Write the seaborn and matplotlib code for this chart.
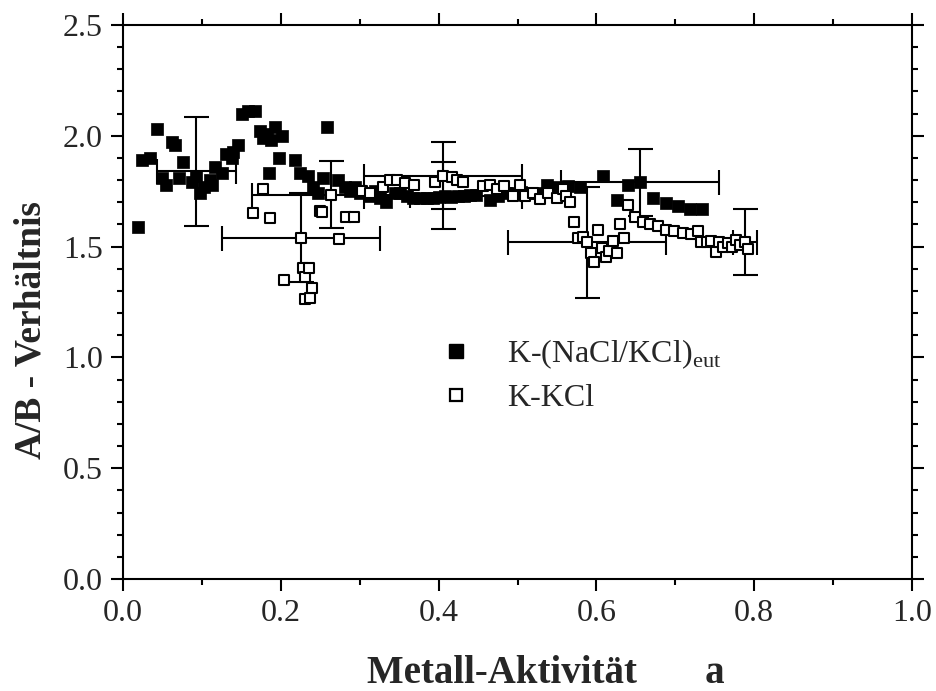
import numpy as np
import pandas as pd
import seaborn as sns
import matplotlib
matplotlib.use("Agg")
import matplotlib.pyplot as plt
from matplotlib.lines import Line2D
from matplotlib.ticker import MultipleLocator, FormatStrFormatter

# K-(NaCl/KCl)eut series
eut_x = [0.019, 0.024, 0.034, 0.043, 0.049, 0.055, 0.062, 0.066, 0.071, 0.076,
         0.087, 0.093, 0.098, 0.102, 0.110, 0.113, 0.117, 0.125, 0.131, 0.138,
         0.140, 0.146, 0.151, 0.159, 0.167, 0.173, 0.178, 0.182, 0.185, 0.188,
         0.193, 0.198, 0.201, 0.218, 0.224, 0.235, 0.241, 0.247, 0.254, 0.259,
         0.273, 0.281, 0.288, 0.294, 0.300, 0.313, 0.319, 0.326, 0.333, 0.345,
         0.351, 0.360, 0.368, 0.376, 0.385, 0.393, 0.400, 0.408, 0.416, 0.424,
         0.432, 0.440, 0.448, 0.465, 0.475, 0.485, 0.495, 0.505, 0.515, 0.525,
         0.537, 0.550, 0.564, 0.579, 0.608, 0.626, 0.640, 0.655, 0.672, 0.688,
         0.703, 0.719, 0.734]
eut_y = [1.59, 1.89, 1.90, 2.03, 1.81, 1.78, 1.97, 1.96, 1.81, 1.88,
         1.79, 1.82, 1.74, 1.77, 1.80, 1.78, 1.86, 1.83, 1.92, 1.90,
         1.925, 1.96, 2.10, 2.11, 2.11, 2.02, 1.99, 2.01, 1.83, 1.98,
         2.04, 1.90, 2.00, 1.89, 1.83, 1.82, 1.77, 1.74, 1.81, 2.04,
         1.80, 1.77, 1.75, 1.77, 1.74, 1.73, 1.75, 1.72, 1.70, 1.74,
         1.74, 1.73, 1.72, 1.72, 1.72, 1.72, 1.725, 1.73, 1.725, 1.73,
         1.73, 1.735, 1.735, 1.71, 1.73, 1.74, 1.74, 1.745, 1.74, 1.74,
         1.78, 1.77, 1.775, 1.77, 1.82, 1.71, 1.78, 1.79, 1.72, 1.695,
         1.685, 1.67, 1.67]

# K-KCl series
kcl_x = [0.165, 0.177, 0.186, 0.204, 0.226, 0.228, 0.231, 0.231, 0.236, 0.237,
         0.239, 0.250, 0.252, 0.264, 0.274, 0.283, 0.293, 0.303, 0.313, 0.329,
         0.338, 0.347, 0.358, 0.369, 0.395, 0.406, 0.417, 0.423, 0.431, 0.456,
         0.465, 0.474, 0.483, 0.494, 0.503, 0.510, 0.520, 0.528, 0.539, 0.550,
         0.558, 0.562, 0.567, 0.572, 0.577, 0.583, 0.588, 0.593, 0.597, 0.602,
         0.607, 0.612, 0.616, 0.621, 0.626, 0.630, 0.635, 0.640, 0.649, 0.659,
         0.668, 0.678, 0.688, 0.698, 0.710, 0.720, 0.729, 0.733, 0.740, 0.745,
         0.752, 0.756, 0.761, 0.767, 0.772, 0.777, 0.782, 0.788, 0.792]
kcl_y = [1.65, 1.76, 1.63, 1.35, 1.54, 1.405, 1.365, 1.265, 1.405, 1.27,
         1.315, 1.66, 1.655, 1.735, 1.535, 1.635, 1.635, 1.75, 1.74, 1.77,
         1.80, 1.80, 1.785, 1.78, 1.79, 1.82, 1.815, 1.80, 1.79, 1.775,
         1.78, 1.76, 1.775, 1.73, 1.78, 1.73, 1.74, 1.715, 1.74, 1.72,
         1.76, 1.73, 1.70, 1.61, 1.54, 1.545, 1.52, 1.47, 1.43, 1.575,
         1.495, 1.455, 1.48, 1.525, 1.47, 1.60, 1.54, 1.69, 1.635, 1.61,
         1.60, 1.595, 1.575, 1.57, 1.56, 1.555, 1.57, 1.52, 1.52, 1.525,
         1.475, 1.52, 1.50, 1.515, 1.50, 1.53, 1.505, 1.52, 1.49]

# Representative points with uncertainty
err_x = [0.093, 0.226, 0.264, 0.406, 0.406, 0.655, 0.588, 0.788]
err_y = [1.84, 1.54, 1.735, 1.82, 1.73, 1.79, 1.52, 1.52]
err_dx = [0.05, 0.10, 0.10, 0.10, 0.10, 0.10, 0.10, 0.015]
err_dy = [0.245, 0.20, 0.15, 0.15, 0.15, 0.15, 0.25, 0.15]

sns.set_style("ticks")
plt.rcParams["font.family"] = ["Liberation Serif", "DejaVu Serif"]
plt.rcParams["mathtext.fontset"] = "custom"
plt.rcParams["mathtext.rm"] = "Liberation Serif"

fig = plt.figure(figsize=(9.37, 6.91), dpi=100)
ax = fig.add_axes([0.1313, 0.1621, 0.842, 0.8017])

ax.errorbar(err_x, err_y, xerr=err_dx, yerr=err_dy, fmt="none",
            ecolor="black", elinewidth=1.5, capsize=9, capthick=1.5, zorder=1)

df_eut = pd.DataFrame({"a": eut_x, "ratio": eut_y})
df_kcl = pd.DataFrame({"a": kcl_x, "ratio": kcl_y})

sns.scatterplot(data=df_eut, x="a", y="ratio", ax=ax, marker="s", s=80,
                color="black", edgecolor="black", linewidth=0.5, zorder=2)
sns.scatterplot(data=df_kcl, x="a", y="ratio", ax=ax, marker="s", s=62,
                facecolor="white", edgecolor="black", linewidth=1.5, zorder=3)

ax.set_xlim(0.0, 1.0)
ax.set_ylim(0.0, 2.5)
ax.xaxis.set_major_locator(MultipleLocator(0.2))
ax.xaxis.set_minor_locator(MultipleLocator(0.1))
ax.yaxis.set_major_locator(MultipleLocator(0.5))
ax.yaxis.set_minor_locator(MultipleLocator(0.1))
ax.xaxis.set_major_formatter(FormatStrFormatter("%.1f"))
ax.yaxis.set_major_formatter(FormatStrFormatter("%.1f"))

for s in ax.spines.values():
    s.set_visible(True)
    s.set_linewidth(1.5)
    s.set_color("black")
ax.tick_params(which="both", direction="out", top=True, right=True,
               width=1.5, color="black", labelsize=23, pad=6)
ax.tick_params(which="major", length=8.5)
ax.tick_params(which="minor", length=4.5)

ax.set_xlabel("Metall-Aktivität       a", fontsize=28, fontweight="bold")
ax.xaxis.set_label_coords(0.536, -0.138)
ax.set_ylabel("A/B - Verhältnis", fontsize=27, fontweight="bold")
ax.yaxis.set_label_coords(-0.095, 0.45)

handles = [
    Line2D([], [], marker="s", linestyle="none", markersize=9.5,
           markerfacecolor="black", markeredgecolor="black"),
    Line2D([], [], marker="s", linestyle="none", markersize=8.3,
           markerfacecolor="white", markeredgecolor="black", markeredgewidth=1.6),
]
labels = [r"K-(NaCl/KCl)$_\mathregular{eut}$", "K-KCl"]
ax.legend(handles, labels, loc="center left", bbox_to_anchor=(0.386, 0.368),
          frameon=False, fontsize=23, handlelength=1.0, handletextpad=1.1,
          labelspacing=0.42, borderaxespad=0)

fig.savefig("out.png", dpi=100)
